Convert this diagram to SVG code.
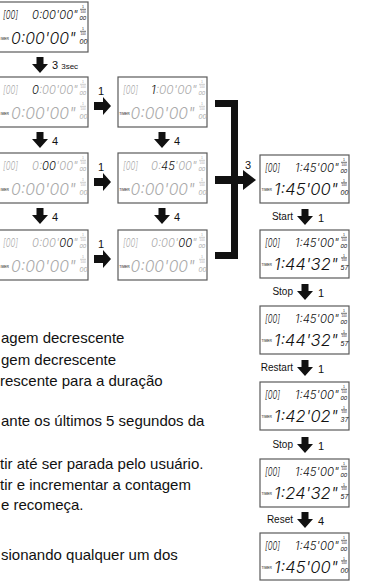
<svg xmlns="http://www.w3.org/2000/svg" width="377" height="581" viewBox="0 0 377 581">
<style>
.box{fill:#fff;stroke:#5a5a5a;stroke-width:1.2}
.lcd{font-family:Inter,"Liberation Sans",Arial,sans-serif;font-style:italic;font-weight:300}
.s{font-size:11px}
.t{font-size:11.5px}
.b{font-size:16.5px}
.fr{font-family:"Liberation Sans",Arial,sans-serif;font-size:3.5px}
.f2{font-size:3px}
.fd{font-style:italic;font-size:6px}
.fb{font-size:7px}
.tm{font-family:"Liberation Sans",Arial,sans-serif;font-size:3.4px;fill:#111}
.g{fill:#ababab}
.k{fill:#111}
.fl{stroke-width:0.6}
.gs{stroke:#ababab}
.ks{stroke:#111}
.lbl{font-family:"Liberation Sans",Arial,sans-serif;font-size:11px;fill:#111}
.sm{font-size:8px}
.rl{font-family:"Liberation Sans",Arial,sans-serif;font-size:10px;fill:#111;text-anchor:end}
.body{font-family:"Liberation Sans",Arial,sans-serif;font-size:15px;fill:#111}
.ar{fill:#111}
</style>
<defs>
<path id="dn" d="M-3.5,0 h7 v7 h4.5 l-8,9 l-8,-9 h4.5 z"/>
<path id="rt" d="M0,-4 h9 v-5 l8,9 l-8,9 v-5 h-9 z"/>
</defs>

<!-- Left column -->
<g id="L1" transform="translate(-1,2)">
<rect class="box" width="89" height="50"/>
<text class="lcd s k" x="4" y="17" textLength="15" lengthAdjust="spacingAndGlyphs">[00]</text>
<text class="lcd t k" x="33" y="17" textLength="46" lengthAdjust="spacingAndGlyphs">0:00'00"</text>
<text class="fr k"><tspan x="83" y="6">1</tspan><tspan class="f2" x="81.6" y="10.6">100</tspan><tspan class="fd" x="80.5" y="17.5">00</tspan></text><line class="fl ks" x1="81" y1="7.3" x2="87" y2="7.3"/>
<text class="tm" x="1.5" y="38">IMER</text>
<text class="lcd b k" x="12" y="42" textLength="65" lengthAdjust="spacingAndGlyphs">0:00'00"</text>
<text class="fr k"><tspan x="83" y="28">1</tspan><tspan class="f2" x="81.6" y="32.6">100</tspan><tspan class="fd fb" x="80.5" y="41.5">00</tspan></text><line class="fl ks" x1="81" y1="29.3" x2="87" y2="29.3"/>
</g>

<g id="L2" transform="translate(-1,77)">
<rect class="box" width="89" height="50"/>
<text class="lcd s g" x="4" y="17" textLength="15" lengthAdjust="spacingAndGlyphs">[00]</text>
<text class="lcd t" x="33" y="17" textLength="46" lengthAdjust="spacingAndGlyphs"><tspan class="k">0</tspan><tspan class="g">:00'00"</tspan></text>
<text class="fr g"><tspan x="83" y="6">1</tspan><tspan class="f2" x="81.6" y="10.6">100</tspan><tspan class="fd" x="80.5" y="17.5">00</tspan></text><line class="fl gs" x1="81" y1="7.3" x2="87" y2="7.3"/>
<text class="tm" x="1.5" y="38">IMER</text>
<text class="lcd b g" x="12" y="42" textLength="65" lengthAdjust="spacingAndGlyphs">0:00'00"</text>
<text class="fr g"><tspan x="83" y="28">1</tspan><tspan class="f2" x="81.6" y="32.6">100</tspan><tspan class="fd fb" x="80.5" y="41.5">00</tspan></text><line class="fl gs" x1="81" y1="29.3" x2="87" y2="29.3"/>
</g>

<g id="L3" transform="translate(-1,153)">
<rect class="box" width="89" height="50"/>
<text class="lcd s g" x="4" y="17" textLength="15" lengthAdjust="spacingAndGlyphs">[00]</text>
<text class="lcd t" x="33" y="17" textLength="46" lengthAdjust="spacingAndGlyphs"><tspan class="g">0:</tspan><tspan class="k">00</tspan><tspan class="g">'00"</tspan></text>
<text class="fr g"><tspan x="83" y="6">1</tspan><tspan class="f2" x="81.6" y="10.6">100</tspan><tspan class="fd" x="80.5" y="17.5">00</tspan></text><line class="fl gs" x1="81" y1="7.3" x2="87" y2="7.3"/>
<text class="tm" x="1.5" y="38">IMER</text>
<text class="lcd b g" x="12" y="42" textLength="65" lengthAdjust="spacingAndGlyphs">0:00'00"</text>
<text class="fr g"><tspan x="83" y="28">1</tspan><tspan class="f2" x="81.6" y="32.6">100</tspan><tspan class="fd fb" x="80.5" y="41.5">00</tspan></text><line class="fl gs" x1="81" y1="29.3" x2="87" y2="29.3"/>
</g>

<g id="L4" transform="translate(-1,230)">
<rect class="box" width="89" height="50"/>
<text class="lcd s g" x="4" y="17" textLength="15" lengthAdjust="spacingAndGlyphs">[00]</text>
<text class="lcd t" x="33" y="17" textLength="46" lengthAdjust="spacingAndGlyphs"><tspan class="g">0:00'</tspan><tspan class="k">00</tspan><tspan class="g">"</tspan></text>
<text class="fr g"><tspan x="83" y="6">1</tspan><tspan class="f2" x="81.6" y="10.6">100</tspan><tspan class="fd" x="80.5" y="17.5">00</tspan></text><line class="fl gs" x1="81" y1="7.3" x2="87" y2="7.3"/>
<text class="tm" x="1.5" y="38">IMER</text>
<text class="lcd b g" x="12" y="42" textLength="65" lengthAdjust="spacingAndGlyphs">0:00'00"</text>
<text class="fr g"><tspan x="83" y="28">1</tspan><tspan class="f2" x="81.6" y="32.6">100</tspan><tspan class="fd fb" x="80.5" y="41.5">00</tspan></text><line class="fl gs" x1="81" y1="29.3" x2="87" y2="29.3"/>
</g>

<!-- Middle column -->
<g id="M2" transform="translate(118,77)">
<rect class="box" width="89" height="50"/>
<text class="lcd s g" x="5" y="17" textLength="15" lengthAdjust="spacingAndGlyphs">[00]</text>
<text class="lcd t" x="33" y="17" textLength="46" lengthAdjust="spacingAndGlyphs"><tspan class="k">1</tspan><tspan class="g">:00'00"</tspan></text>
<text class="fr g"><tspan x="83" y="6">1</tspan><tspan class="f2" x="81.6" y="10.6">100</tspan><tspan class="fd" x="80.5" y="17.5">00</tspan></text><line class="fl gs" x1="81" y1="7.3" x2="87" y2="7.3"/>
<text class="tm" x="1.2" y="38">TIMER</text>
<text class="lcd b g" x="12.5" y="42" textLength="64.5" lengthAdjust="spacingAndGlyphs">0:00'00"</text>
<text class="fr g"><tspan x="83" y="28">1</tspan><tspan class="f2" x="81.6" y="32.6">100</tspan><tspan class="fd fb" x="80.5" y="41.5">00</tspan></text><line class="fl gs" x1="81" y1="29.3" x2="87" y2="29.3"/>
</g>

<g id="M3" transform="translate(118,153)">
<rect class="box" width="89" height="50"/>
<text class="lcd s g" x="5" y="17" textLength="15" lengthAdjust="spacingAndGlyphs">[00]</text>
<text class="lcd t" x="33" y="17" textLength="46" lengthAdjust="spacingAndGlyphs"><tspan class="g">0:</tspan><tspan class="k">45</tspan><tspan class="g">'00"</tspan></text>
<text class="fr g"><tspan x="83" y="6">1</tspan><tspan class="f2" x="81.6" y="10.6">100</tspan><tspan class="fd" x="80.5" y="17.5">00</tspan></text><line class="fl gs" x1="81" y1="7.3" x2="87" y2="7.3"/>
<text class="tm" x="1.2" y="38">TIMER</text>
<text class="lcd b g" x="12.5" y="42" textLength="64.5" lengthAdjust="spacingAndGlyphs">0:00'00"</text>
<text class="fr g"><tspan x="83" y="28">1</tspan><tspan class="f2" x="81.6" y="32.6">100</tspan><tspan class="fd fb" x="80.5" y="41.5">00</tspan></text><line class="fl gs" x1="81" y1="29.3" x2="87" y2="29.3"/>
</g>

<g id="M4" transform="translate(118,230)">
<rect class="box" width="89" height="50"/>
<text class="lcd s g" x="5" y="17" textLength="15" lengthAdjust="spacingAndGlyphs">[00]</text>
<text class="lcd t" x="33" y="17" textLength="46" lengthAdjust="spacingAndGlyphs"><tspan class="g">0:00'</tspan><tspan class="k">00</tspan><tspan class="g">"</tspan></text>
<text class="fr g"><tspan x="83" y="6">1</tspan><tspan class="f2" x="81.6" y="10.6">100</tspan><tspan class="fd" x="80.5" y="17.5">00</tspan></text><line class="fl gs" x1="81" y1="7.3" x2="87" y2="7.3"/>
<text class="tm" x="1.2" y="38">TIMER</text>
<text class="lcd b g" x="12.5" y="42" textLength="64.5" lengthAdjust="spacingAndGlyphs">0:00'00"</text>
<text class="fr g"><tspan x="83" y="28">1</tspan><tspan class="f2" x="81.6" y="32.6">100</tspan><tspan class="fd fb" x="80.5" y="41.5">00</tspan></text><line class="fl gs" x1="81" y1="29.3" x2="87" y2="29.3"/>
</g>

<!-- Right column -->
<g id="R1" transform="translate(260,155)">
<rect class="box" width="89" height="48"/>
<text class="lcd s k" x="5" y="17" textLength="15" lengthAdjust="spacingAndGlyphs">[00]</text>
<text class="lcd t k" x="35" y="17" textLength="44" lengthAdjust="spacingAndGlyphs">1:45'00"</text>
<text class="fr k"><tspan x="83" y="6">1</tspan><tspan class="f2" x="81.6" y="10.6">100</tspan><tspan class="fd" x="80.5" y="17.5">00</tspan></text><line class="fl ks" x1="81" y1="7.3" x2="87" y2="7.3"/>
<text class="tm" x="1.5" y="36">TIMER</text>
<text class="lcd b k" x="14" y="40" textLength="64" lengthAdjust="spacingAndGlyphs">1:45'00"</text>
<text class="fr k"><tspan x="83" y="26.5">1</tspan><tspan class="f2" x="81.6" y="31.1">100</tspan><tspan class="fd fb" x="80.5" y="39.5">00</tspan></text><line class="fl ks" x1="81" y1="27.8" x2="87" y2="27.8"/>
</g>

<g id="R2" transform="translate(260,230)">
<rect class="box" width="89" height="48"/>
<text class="lcd s k" x="5" y="17" textLength="15" lengthAdjust="spacingAndGlyphs">[00]</text>
<text class="lcd t k" x="35" y="17" textLength="44" lengthAdjust="spacingAndGlyphs">1:45'00"</text>
<text class="fr k"><tspan x="83" y="6">1</tspan><tspan class="f2" x="81.6" y="10.6">100</tspan><tspan class="fd" x="80.5" y="17.5">00</tspan></text><line class="fl ks" x1="81" y1="7.3" x2="87" y2="7.3"/>
<text class="tm" x="1.5" y="36">TIMER</text>
<text class="lcd b k" x="14" y="40" textLength="64" lengthAdjust="spacingAndGlyphs">1:44'32"</text>
<text class="fr k"><tspan x="83" y="26.5">1</tspan><tspan class="f2" x="81.6" y="31.1">100</tspan><tspan class="fd fb" x="80.5" y="39.5">57</tspan></text><line class="fl ks" x1="81" y1="27.8" x2="87" y2="27.8"/>
</g>

<g id="R3" transform="translate(260,306)">
<rect class="box" width="89" height="48"/>
<text class="lcd s k" x="5" y="17" textLength="15" lengthAdjust="spacingAndGlyphs">[00]</text>
<text class="lcd t k" x="35" y="17" textLength="44" lengthAdjust="spacingAndGlyphs">1:45'00"</text>
<text class="fr k"><tspan x="83" y="6">1</tspan><tspan class="f2" x="81.6" y="10.6">100</tspan><tspan class="fd" x="80.5" y="17.5">00</tspan></text><line class="fl ks" x1="81" y1="7.3" x2="87" y2="7.3"/>
<text class="tm" x="1.5" y="36">TIMER</text>
<text class="lcd b k" x="14" y="40" textLength="64" lengthAdjust="spacingAndGlyphs">1:44'32"</text>
<text class="fr k"><tspan x="83" y="26.5">1</tspan><tspan class="f2" x="81.6" y="31.1">100</tspan><tspan class="fd fb" x="80.5" y="39.5">57</tspan></text><line class="fl ks" x1="81" y1="27.8" x2="87" y2="27.8"/>
</g>

<g id="R4" transform="translate(260,382)">
<rect class="box" width="89" height="48"/>
<text class="lcd s k" x="5" y="17" textLength="15" lengthAdjust="spacingAndGlyphs">[00]</text>
<text class="lcd t k" x="35" y="17" textLength="44" lengthAdjust="spacingAndGlyphs">1:45'00"</text>
<text class="fr k"><tspan x="83" y="6">1</tspan><tspan class="f2" x="81.6" y="10.6">100</tspan><tspan class="fd" x="80.5" y="17.5">00</tspan></text><line class="fl ks" x1="81" y1="7.3" x2="87" y2="7.3"/>
<text class="tm" x="1.5" y="36">TIMER</text>
<text class="lcd b k" x="14" y="40" textLength="64" lengthAdjust="spacingAndGlyphs">1:42'02"</text>
<text class="fr k"><tspan x="83" y="26.5">1</tspan><tspan class="f2" x="81.6" y="31.1">100</tspan><tspan class="fd fb" x="80.5" y="39.5">37</tspan></text><line class="fl ks" x1="81" y1="27.8" x2="87" y2="27.8"/>
</g>

<g id="R5" transform="translate(260,459)">
<rect class="box" width="89" height="48"/>
<text class="lcd s k" x="5" y="17" textLength="15" lengthAdjust="spacingAndGlyphs">[00]</text>
<text class="lcd t k" x="35" y="17" textLength="44" lengthAdjust="spacingAndGlyphs">1:45'00"</text>
<text class="fr k"><tspan x="83" y="6">1</tspan><tspan class="f2" x="81.6" y="10.6">100</tspan><tspan class="fd" x="80.5" y="17.5">00</tspan></text><line class="fl ks" x1="81" y1="7.3" x2="87" y2="7.3"/>
<text class="tm" x="1.5" y="36">TIMER</text>
<text class="lcd b k" x="14" y="40" textLength="64" lengthAdjust="spacingAndGlyphs">1:24'32"</text>
<text class="fr k"><tspan x="83" y="26.5">1</tspan><tspan class="f2" x="81.6" y="31.1">100</tspan><tspan class="fd fb" x="80.5" y="39.5">57</tspan></text><line class="fl ks" x1="81" y1="27.8" x2="87" y2="27.8"/>
</g>

<g id="R6" transform="translate(260,533)">
<rect class="box" width="89" height="47"/>
<text class="lcd s k" x="5" y="17" textLength="15" lengthAdjust="spacingAndGlyphs">[00]</text>
<text class="lcd t k" x="35" y="17" textLength="44" lengthAdjust="spacingAndGlyphs">1:45'00"</text>
<text class="fr k"><tspan x="83" y="6">1</tspan><tspan class="f2" x="81.6" y="10.6">100</tspan><tspan class="fd" x="80.5" y="17.5">00</tspan></text><line class="fl ks" x1="81" y1="7.3" x2="87" y2="7.3"/>
<text class="tm" x="1.5" y="36">TIMER</text>
<text class="lcd b k" x="14" y="40" textLength="64" lengthAdjust="spacingAndGlyphs">1:45'00"</text>
<text class="fr k"><tspan x="83" y="26.5">1</tspan><tspan class="f2" x="81.6" y="31.1">100</tspan><tspan class="fd fb" x="80.5" y="39.5">00</tspan></text><line class="fl ks" x1="81" y1="27.8" x2="87" y2="27.8"/>
</g>

<!-- Connectors -->
<g id="connectors">
<use href="#dn" class="ar" x="40" y="57"/>
<text class="lbl" x="52" y="69">3 <tspan class="sm">3sec</tspan></text>
<use href="#dn" class="ar" x="40" y="132"/>
<text class="lbl" x="52" y="145">4</text>
<use href="#dn" class="ar" x="40" y="208"/>
<text class="lbl" x="52" y="221">4</text>
<use href="#dn" class="ar" x="162" y="132"/>
<text class="lbl" x="174" y="145">4</text>
<use href="#dn" class="ar" x="162" y="208"/>
<text class="lbl" x="174" y="221">4</text>

<use href="#rt" class="ar" x="94" y="106"/>
<text class="lbl" x="98" y="95">1</text>
<use href="#rt" class="ar" x="94" y="182"/>
<text class="lbl" x="98" y="171">1</text>
<use href="#rt" class="ar" x="94" y="259"/>
<text class="lbl" x="98" y="248">1</text>

<rect class="ar" x="215" y="100" width="23" height="7"/>
<rect class="ar" x="231" y="100" width="7" height="159"/>
<rect class="ar" x="215" y="252" width="23" height="7"/>
<rect class="ar" x="215" y="176" width="30" height="8"/>
<polygon class="ar" points="243,170 256,180 243,190"/>
<text class="lbl" x="245" y="169">3</text>

<use href="#dn" class="ar" x="305" y="209"/>
<text class="rl" x="293" y="220">Start</text>
<text class="lbl" x="318" y="222">1</text>
<use href="#dn" class="ar" x="305" y="284"/>
<text class="rl" x="293" y="295">Stop</text>
<text class="lbl" x="318" y="297">1</text>
<use href="#dn" class="ar" x="305" y="360"/>
<text class="rl" x="293" y="371">Restart</text>
<text class="lbl" x="318" y="373">1</text>
<use href="#dn" class="ar" x="305" y="437"/>
<text class="rl" x="293" y="448">Stop</text>
<text class="lbl" x="318" y="450">1</text>
<use href="#dn" class="ar" x="305" y="512"/>
<text class="rl" x="293" y="523">Reset</text>
<text class="lbl" x="318" y="525">4</text>
</g>

<!-- Body text -->
<g id="text">
<text class="body" x="1" y="343">agem decrescente</text>
<text class="body" x="1" y="365">gem decrescente</text>
<text class="body" x="0" y="386">rescente para a duração</text>
<text class="body" x="1" y="426">ante os últimos 5 segundos da</text>
<text class="body" x="0" y="469">tir até ser parada pelo usuário.</text>
<text class="body" x="0" y="490">tir e incrementar a contagem</text>
<text class="body" x="1" y="510">e recomeça.</text>
<text class="body" x="1" y="560">sionando qualquer um dos</text>
</g>
</svg>
